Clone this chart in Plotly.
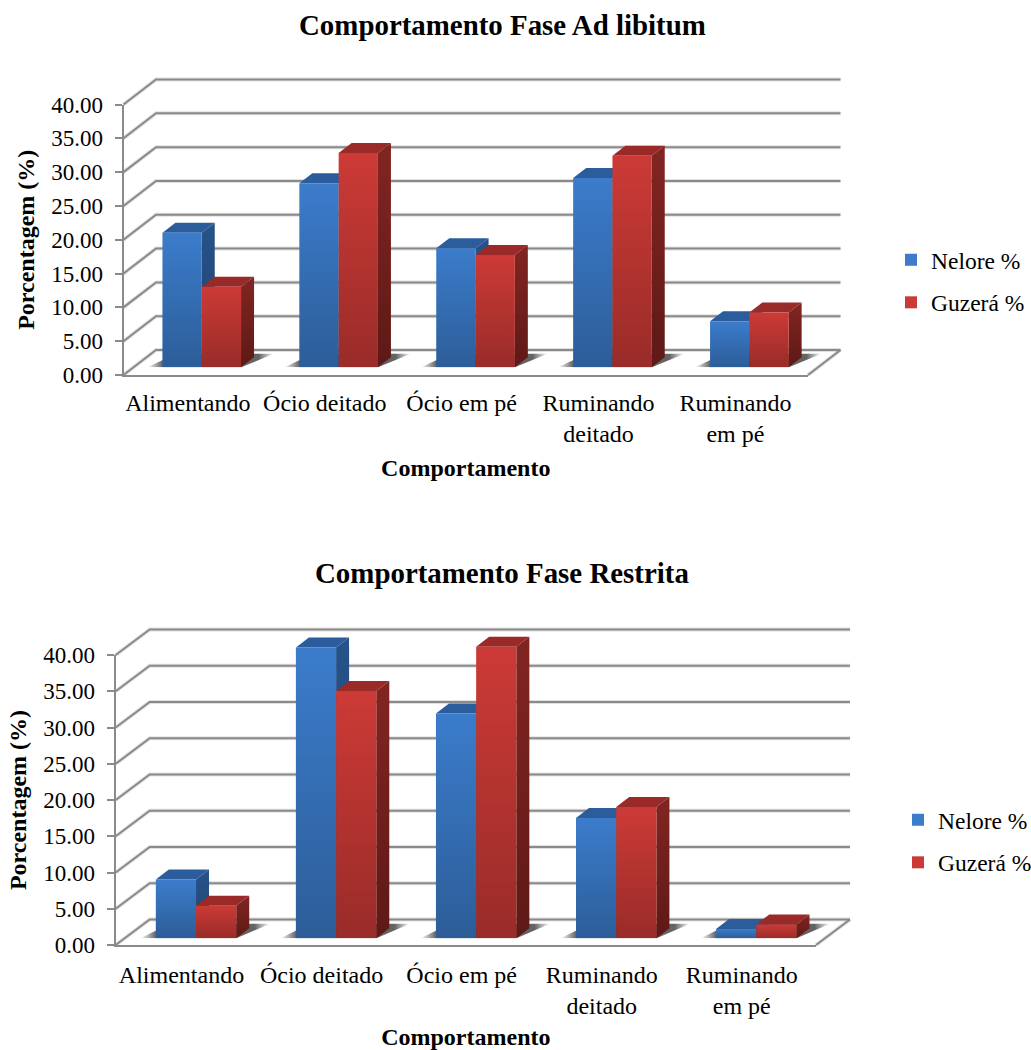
import plotly.graph_objects as go

W, H = 1031, 1050
FONT = "Liberation Serif"

categories = ["Alimentando", "Ócio deitado", "Ócio em pé", "Ruminando<br>deitado", "Ruminando<br>em pé"]
y_ticks = [0, 5, 10, 15, 20, 25, 30, 35, 40]
series_names = ["Nelore %", "Guzerá %"]

nelore_adlib = [19.9, 27.2, 17.6, 28.0, 6.8]
guzera_adlib = [11.9, 31.7, 16.6, 31.3, 8.1]
nelore_restr = [8.1, 40.1, 31.0, 16.6, 1.3]
guzera_restr = [4.5, 34.1, 40.2, 18.1, 1.9]

GRID = "#8a8a8a"
BAR_FRAC = 0.574
face = {
    "Nelore %": dict(front="#3B7CCB", top="#2B5C9B", side=("#27538A", "#1F426E")),
    "Guzerá %": dict(front="#CC3A36", top="#9A2A27", side=("#822522", "#5E1916")),
}

charts = [
    dict(title="Comportamento Fase Ad libitum", title_y=25, values=[nelore_adlib, guzera_adlib],
         left=123.5, right=808, y0=375, y40=104.5, ddx=32.5, ddy=25, base=367.3, shift=9.8,
         title_x=502, legend_x=891, legend_y=238, ytitle=10, xtitle=13, xlabel_gap=5),
    dict(title="Comportamento Fase Restrita", title_y=573, values=[nelore_restr, guzera_restr],
         left=115.7, right=816, y0=945, y40=655, ddx=34, ddy=25.5, base=938.3, shift=10.3,
         title_x=502, legend_x=898, legend_y=798, ytitle=10, xtitle=12, xlabel_gap=7),
]

fig = go.Figure()
layout = {}
annotations = []


def px_x(a, b):
    return [a / W, b / W]


def px_y(top, bottom):
    return [1 - bottom / H, 1 - top / H]


def add_axes(n, xdom, ydom, xr, yr, **kw):
    s = "" if n == 1 else str(n)
    layout["xaxis" + s] = dict(domain=xdom, range=xr, anchor="y" + s, visible=False, fixedrange=True, **kw.get("x", {}))
    layout["yaxis" + s] = dict(domain=ydom, range=yr, anchor="x" + s, visible=False, fixedrange=True, **kw.get("y", {}))
    return "x" + s, "y" + s


def poly(xs, ys, ax, **kw):
    fig.add_trace(go.Scatter(x=xs, y=ys, xaxis=ax[0], yaxis=ax[1], mode="lines", fill="toself",
                             line=dict(width=0), hoverinfo="skip", showlegend=False, **kw))


n = 1
for c_i, c in enumerate(charts):
    cat_w = (c["right"] - c["left"]) / 5
    scale = (c["y0"] - c["y40"]) / 40
    dx_u = c["ddx"] / cat_w
    dy_u = c["ddy"] / scale

    # wall and floor lines, on axes that share the front plane's units
    xr = [-0.6, 4.6 + dx_u]
    yr = [-1, 41 + dy_u]
    box = add_axes(
        n,
        px_x(c["left"] + (xr[0] + 0.5) * cat_w, c["left"] + (xr[1] + 0.5) * cat_w),
        px_y(c["y0"] - yr[1] * scale, c["y0"] - yr[0] * scale),
        xr, yr)
    lx, ly = [], []
    for t in y_ticks:
        lx += [-0.5, -0.5 + dx_u, 4.5 + dx_u, None]
        ly += [t, t + dy_u, t + dy_u, None]
    lx += [4.5, 4.5 + dx_u]
    ly += [0, dy_u]
    for w, col in ((4, "rgba(120,120,120,0.22)"), (2, GRID)):
        fig.add_trace(go.Scatter(x=lx, y=ly, xaxis=box[0], yaxis=box[1], mode="lines",
                                 line=dict(color=col, width=w), hoverinfo="skip", showlegend=False))

    # front plane: the visible value and category axes
    ytick_font = dict(family=FONT, size=23, color="black")
    xtick_font = dict(family=FONT, size=24, color="black")
    title_font = dict(family=FONT, size=24, color="black")
    front = add_axes(
        n + 1, px_x(c["left"], c["right"]), px_y(c["y40"], c["y0"]), [-0.5, 4.5], [0, 40],
        x=dict(tickmode="array", tickvals=[i - 0.03 for i in range(5)], ticktext=categories, ticks="",
               showgrid=False, zeroline=False, tickfont=xtick_font, ticklen=0, ticklabelstandoff=c["xlabel_gap"]),
        y=dict(tickmode="array", tickvals=y_ticks, ticktext=[f"{t:.2f}" for t in y_ticks], ticks="outside",
               ticklen=7, tickwidth=2, tickcolor=GRID, showgrid=False, zeroline=False, tickfont=ytick_font,
               ticklabelstandoff=7))
    s = str(n + 1)
    layout["xaxis" + s].update(visible=True, showline=True, linecolor=GRID, linewidth=2,
                               title=dict(text="<b>Comportamento</b>", font=title_font, standoff=c["xtitle"]))
    layout["yaxis" + s].update(visible=True, showline=True, linecolor=GRID, linewidth=2,
                               title=dict(text="<b>Porcentagem (%)</b>", font=title_font, standoff=c["ytitle"]))
    fig.add_trace(go.Scatter(x=list(range(5)), y=c["values"][0], xaxis=front[0], yaxis=front[1], mode="none",
                             hoverinfo="skip", showlegend=False))

    # bars sit on the floor, a little behind the front plane
    bx = [-0.5, 4.75]
    by = [0, 45]
    xd = px_x(c["left"] + c["shift"] + (bx[0] + 0.5) * cat_w, c["left"] + c["shift"] + (bx[1] + 0.5) * cat_w)
    yd = px_y(c["base"] - by[1] * scale, c["base"])
    faces = add_axes(n + 2, xd, yd, bx, by)
    bars = add_axes(n + 3, xd, yd, bx, by)

    d_x, d_y = 13 / cat_w, 10 / scale
    half = BAR_FRAC / 2

    # floor shadow of each group
    for i in range(5):
        l, r = i - half, i + half
        poly([l - 0.11, r, r + 0.24, l + 0.1], [0, 0, 2.0, 2.0], faces, fillcolor="rgba(0,0,0,0)",
             fillgradient=dict(type="horizontal",
                               colorscale=[[0, "rgba(60,60,60,0)"], [0.12, "rgba(60,60,60,0.8)"],
                                           [0.88, "rgba(60,60,60,0.8)"], [1, "rgba(60,60,60,0)"]]))

    # top and side faces, each computed from the same values as its bar
    for s_i, name in enumerate(series_names):
        vals = c["values"][s_i]
        for i, v in enumerate(vals):
            l = i - half + s_i * half
            r = l + half
            poly([l, r, r + d_x, l + d_x], [v, v, v + d_y, v + d_y], faces, fillcolor=face[name]["top"])
            poly([r, r + d_x, r + d_x, r], [0, d_y, v + d_y, v], faces,
                 fillgradient=dict(type="vertical", colorscale=[[0, face[name]["side"][1]], [1, face[name]["side"][0]]]))

    # the bars themselves
    for s_i, name in enumerate(series_names):
        fig.add_trace(go.Bar(x=list(range(5)), y=c["values"][s_i], name=name, xaxis=bars[0], yaxis=bars[1],
                             marker=dict(color=face[name]["front"], line=dict(width=0)),
                             legend="legend" if c_i == 0 else "legend2",
                             legendgroup=f"{c_i}-{name}"))
    # shading over each bar's front
    for s_i, name in enumerate(series_names):
        for i, v in enumerate(c["values"][s_i]):
            l = i - half + s_i * half
            r = l + half
            poly([l, r, r, l], [0, 0, v, v], bars,
                 fillgradient=dict(type="vertical", colorscale=[[0, "rgba(0,0,0,0.25)"], [1, "rgba(0,0,0,0)"]]))

    annotations.append(dict(text=f"<b>{c['title']}</b>", xref="paper", yref="paper", x=c["title_x"] / W,
                            y=1 - c["title_y"] / H, xanchor="center", yanchor="middle", showarrow=False,
                            font=dict(family=FONT, size=28.9, color="black")))
    leg = dict(x=c["legend_x"] / W, y=1 - c["legend_y"] / H, xanchor="left", yanchor="top",
               font=dict(family=FONT, size=23.5, color="black"), tracegroupgap=9,
               bgcolor="rgba(0,0,0,0)", itemclick=False, itemdoubleclick=False)
    layout["legend" if c_i == 0 else "legend2"] = leg
    n += 4

fig.update_layout(width=W, height=H, margin=dict(l=0, r=0, t=0, b=0, autoexpand=False), paper_bgcolor="white",
                  plot_bgcolor="rgba(0,0,0,0)", barmode="group", bargap=1 - BAR_FRAC, bargroupgap=0,
                  annotations=annotations, showlegend=True, hovermode=False, **layout)

fig.write_html("out.html", config={"displayModeBar": False},
               post_script="document.body.style.margin='0';document.documentElement.style.overflow='hidden';")
